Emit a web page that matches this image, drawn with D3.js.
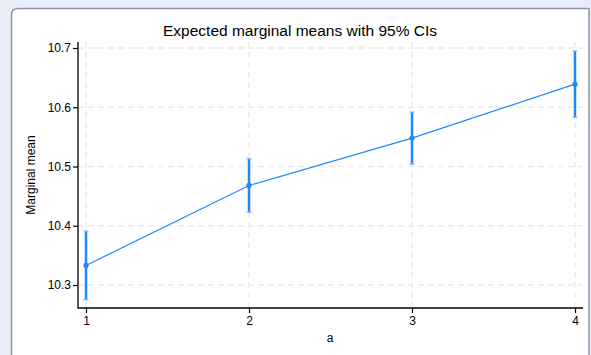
<!DOCTYPE html>
<html><head><meta charset="utf-8">
<script src="https://cdn.jsdelivr.net/npm/d3@7"></script>
<style>
html,body{margin:0;padding:0;background:#e8eef8;}
svg{display:block;font-family:"Liberation Sans",Arial,Helvetica,sans-serif;}
</style></head>
<body>
<svg id="c" width="591" height="355"></svg>
<script>
const categories = [1, 2, 3, 4];
const means = [10.333, 10.468, 10.548, 10.639];
const lower = [10.275, 10.423, 10.504, 10.583];
const upper = [10.391, 10.513, 10.592, 10.695];
const yTicks = [10.3, 10.4, 10.5, 10.6, 10.7];
const title = "Expected marginal means with 95% CIs";
const xTitle = "a";
const yTitle = "Marginal mean";

const svg = d3.select("#c");
// panel
svg.append("path")
  .attr("d", "M11.5,360 L11.5,15 Q11.5,8.5 18,8.5 L589,8.5 L589,360")
  .attr("fill", "#ffffff").attr("stroke", "#8c95a3").attr("stroke-width", 1.5);

const x = d3.scaleLinear().domain([1, 4]).range([86, 575]);
const y = d3.scaleLinear().domain([10.3, 10.7]).range([285, 48]);
const plotTop = 42, plotBottom = 308, plotLeft = 78, plotRight = 583;

const g = svg.append("g");
// grid
g.selectAll(".hg").data(yTicks).join("line")
  .attr("x1", plotLeft).attr("x2", plotRight)
  .attr("y1", d => y(d)).attr("y2", d => y(d))
  .attr("stroke", "#ebebeb").attr("stroke-width", 1.5).attr("stroke-dasharray", "6,4");
g.selectAll(".vg").data(categories).join("line")
  .attr("y1", plotTop).attr("y2", plotBottom)
  .attr("x1", d => x(d)).attr("x2", d => x(d))
  .attr("stroke", "#ebebeb").attr("stroke-width", 1.5).attr("stroke-dasharray", "6,4");

// axes
const yAxis = d3.axisLeft(y).tickValues(yTicks).tickFormat(d3.format(".1f")).tickSize(5).tickPadding(2);
const ya = svg.append("g").attr("transform", `translate(${plotLeft},0)`).call(yAxis);
ya.select(".domain").remove();
svg.append("line").attr("x1", plotLeft).attr("x2", plotLeft).attr("y1", plotTop).attr("y2", plotBottom + 0.5)
  .attr("stroke", "#000").attr("stroke-width", 1.3);
const xAxis = d3.axisBottom(x).tickValues(categories).tickFormat(d3.format("d")).tickSize(5).tickPadding(3);
const xa = svg.append("g").attr("transform", `translate(0,${plotBottom})`).call(xAxis);
xa.select(".domain").remove();
svg.append("line").attr("x1", plotLeft).attr("x2", plotRight).attr("y1", plotBottom).attr("y2", plotBottom)
  .attr("stroke", "#000").attr("stroke-width", 1.3);
svg.selectAll(".tick text").attr("font-size", 12).attr("fill", "#000")
  .attr("font-family", "Liberation Sans, Arial, sans-serif");
svg.selectAll(".tick line").attr("stroke", "#000").attr("stroke-width", 1.2);

const blue = "#1e88ff";
// line
const data = categories.map((c, i) => ({c, m: means[i], lo: lower[i], hi: upper[i]}));
svg.append("path").datum(data)
  .attr("d", d3.line().x(d => x(d.c)).y(d => y(d.m)))
  .attr("fill", "none").attr("stroke", blue).attr("stroke-width", 1.2);
// error bars
svg.selectAll(".eb").data(data).join("line")
  .attr("x1", d => x(d.c)).attr("x2", d => x(d.c))
  .attr("y1", d => y(d.lo)).attr("y2", d => y(d.hi))
  .attr("stroke", blue).attr("stroke-width", 2.5);
svg.selectAll(".capt").data(data).join("line")
  .attr("x1", d => x(d.c) - 2.5).attr("x2", d => x(d.c) + 2.5)
  .attr("y1", d => y(d.hi)).attr("y2", d => y(d.hi))
  .attr("stroke", "#7ab8ff").attr("stroke-width", 1.2);
svg.selectAll(".capb").data(data).join("line")
  .attr("x1", d => x(d.c) - 2.5).attr("x2", d => x(d.c) + 2.5)
  .attr("y1", d => y(d.lo)).attr("y2", d => y(d.lo))
  .attr("stroke", "#7ab8ff").attr("stroke-width", 1.2);
svg.selectAll(".pt").data(data).join("circle")
  .attr("cx", d => x(d.c)).attr("cy", d => y(d.m)).attr("r", 2.6)
  .attr("fill", blue);

// titles
svg.append("text").attr("x", 300).attr("y", 36).attr("text-anchor", "middle")
  .attr("font-size", 15.5).attr("fill", "#000").text(title);
svg.append("text").attr("x", 330).attr("y", 342).attr("text-anchor", "middle")
  .attr("font-size", 12).attr("fill", "#000").text(xTitle);
svg.append("text").attr("transform", "translate(35,175) rotate(-90)").attr("text-anchor", "middle")
  .attr("font-size", 12).attr("fill", "#000").text(yTitle);
</script>
</body></html>
